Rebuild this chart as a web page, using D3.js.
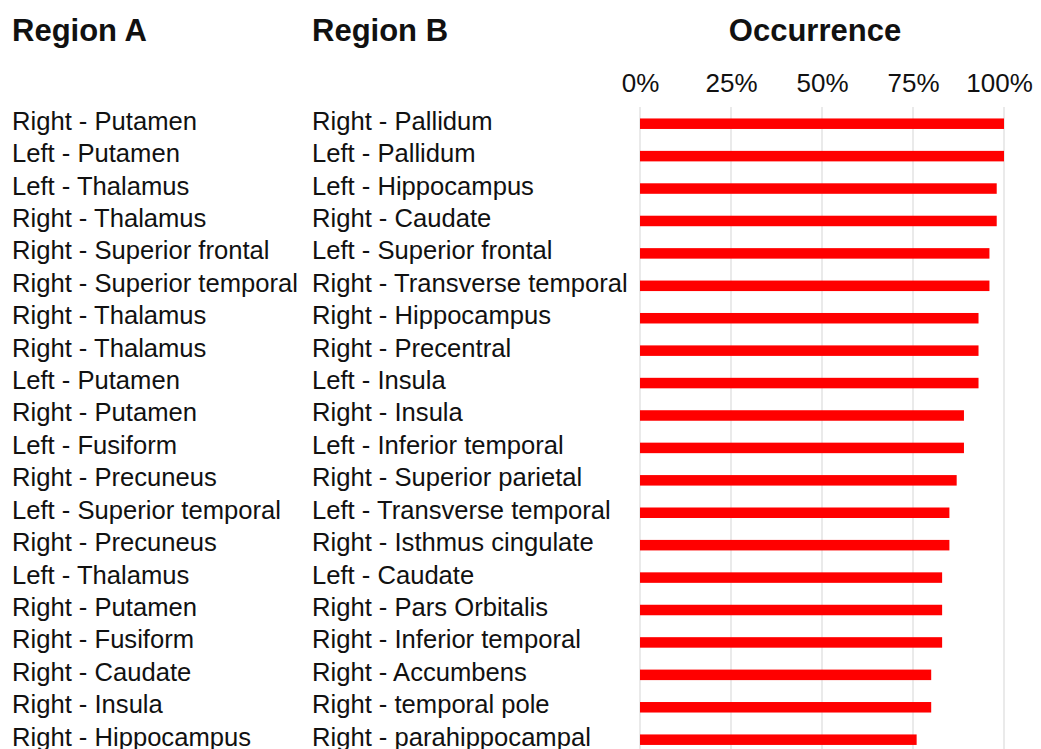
<!DOCTYPE html>
<html>
<head>
<meta charset="utf-8">
<script src="https://cdn.jsdelivr.net/npm/d3@7"></script>
<style>
  body { margin: 0; background: #fff; }
  text { font-family: "Liberation Sans", Arial, Helvetica, sans-serif; fill: #111; }
</style>
</head>
<body>
<div class="container"></div>
<script>
var regionA = ["Right - Putamen", "Left - Putamen", "Left - Thalamus", "Right - Thalamus",
    "Right - Superior frontal", "Right - Superior temporal", "Right - Thalamus", "Right - Thalamus",
    "Left - Putamen", "Right - Putamen", "Left - Fusiform", "Right - Precuneus",
    "Left - Superior temporal", "Right - Precuneus", "Left - Thalamus", "Right - Putamen",
    "Right - Fusiform", "Right - Caudate", "Right - Insula", "Right - Hippocampus"];

var regionB = ["Right - Pallidum", "Left - Pallidum", "Left - Hippocampus", "Right - Caudate",
    "Left - Superior frontal", "Right - Transverse temporal", "Right - Hippocampus", "Right - Precentral",
    "Left - Insula", "Right - Insula", "Left - Inferior temporal", "Right - Superior parietal",
    "Left - Transverse temporal", "Right - Isthmus cingulate", "Left - Caudate", "Right - Pars Orbitalis",
    "Right - Inferior temporal", "Right - Accumbens", "Right - temporal pole", "Right - parahippocampal"];

// occurrence in percent
var occurrence = [100, 100, 98, 98, 96, 96, 93, 93, 93, 89, 89, 87, 85, 85, 83, 83, 83, 80, 80, 76];

var tickValues = [0, 25, 50, 75, 100];

var width = 1041,
    height = 749;

var svg = d3.select("div.container").append("svg")
    .attr("width", width)
    .attr("height", height);

var x = d3.scaleLinear()
    .domain([0, 100])
    .range([640, 1004]);

var y = d3.scaleBand()
    .domain(d3.range(occurrence.length))
    .range([107.5, 107.5 + 32.42 * occurrence.length])
    .paddingInner(0.676)
    .paddingOuter(0.338);

// headers
var headers = svg.append("g").attr("class", "headers")
    .style("font-weight", "bold")
    .style("font-size", "31px");
headers.append("text").attr("x", 12).attr("y", 41).text("Region A");
headers.append("text").attr("x", 312).attr("y", 41).text("Region B");
headers.append("text").attr("x", 815).attr("y", 41)
    .attr("text-anchor", "middle").text("Occurrence");

// top axis with gridlines
var axis = svg.append("g")
    .attr("transform", "translate(0,92)")
    .call(d3.axisTop(x)
        .tickValues(tickValues)
        .tickSize(0)
        .tickPadding(0)
        .tickFormat(function(d) { return d + "%"; }));
axis.select(".domain").remove();
axis.selectAll("text")
    .style("font-size", "26px")
    .attr("fill", "#111");
// last label is pulled in so it stays inside the picture
axis.selectAll(".tick").filter(function(d) { return d === 100; })
    .select("text").attr("x", -5);

svg.append("g").attr("class", "grid")
    .selectAll("line")
    .data(tickValues)
    .enter().append("line")
    .attr("x1", function(d) { return x(d); })
    .attr("x2", function(d) { return x(d); })
    .attr("y1", 107)
    .attr("y2", height)
    .attr("stroke", "#e3e3e3")
    .attr("stroke-width", 1.5);

// bars
svg.append("g").attr("class", "bars")
    .selectAll("rect")
    .data(occurrence)
    .enter().append("rect")
    .attr("x", x(0))
    .attr("y", function(d, i) { return y(i); })
    .attr("width", function(d) { return x(d) - x(0); })
    .attr("height", y.bandwidth())
    .attr("fill", "#ff0000");

// row labels
var labels = svg.append("g").attr("class", "labels").style("font-size", "25.6px");
labels.selectAll("text.a")
    .data(regionA)
    .enter().append("text")
    .attr("class", "a")
    .attr("x", 12)
    .attr("y", function(d, i) { return y(i) + y.bandwidth() / 2 + 6; })
    .text(function(d) { return d; });
labels.selectAll("text.b")
    .data(regionB)
    .enter().append("text")
    .attr("class", "b")
    .attr("x", 312)
    .attr("y", function(d, i) { return y(i) + y.bandwidth() / 2 + 6; })
    .text(function(d) { return d; });
</script>
</body>
</html>
